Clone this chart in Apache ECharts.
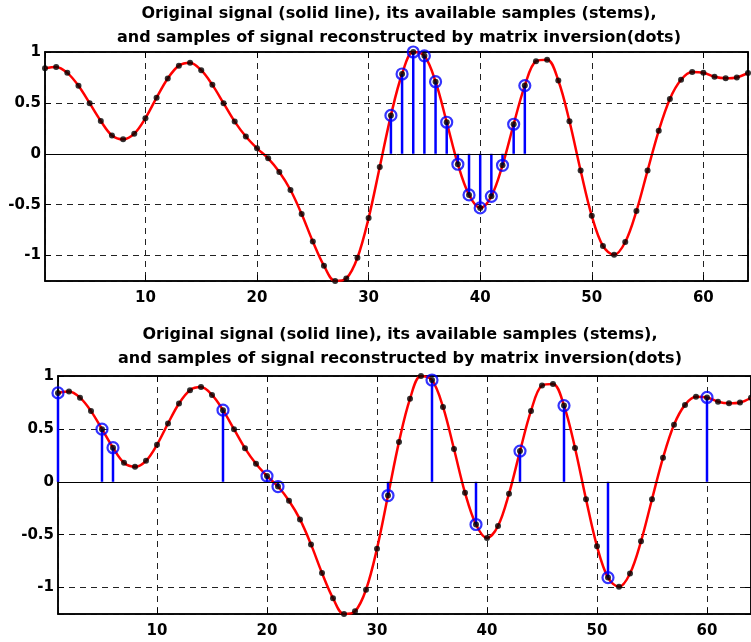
<!DOCTYPE html>
<html>
<head>
<meta charset="utf-8">
<script src="https://cdn.jsdelivr.net/npm/echarts@6/dist/echarts.min.js"></script>
<style>
html,body{margin:0;padding:0;background:#fff;}
#c{width:751px;height:642px;}
</style>
</head>
<body>
<div id="c"></div>
<script>
// Sample positions n = 1..64
var sampleIndex = [];
for (var i = 1; i <= 64; i++) sampleIndex.push(i);

// Original signal values at the 64 samples
var signal = [
  0.840, 0.853, 0.795, 0.668, 0.497, 0.322, 0.180, 0.142, 0.198, 0.350,
  0.551, 0.740, 0.866, 0.895, 0.821, 0.677, 0.497, 0.316, 0.170, 0.054,
  -0.045, -0.179, -0.356, -0.592, -0.862, -1.100, -1.250, -1.225, -1.021, -0.632,
  -0.130, 0.377, 0.784, 1.000, 0.962, 0.708, 0.310, -0.103, -0.404, -0.532,
  -0.418, -0.113, 0.290, 0.670, 0.910, 0.925, 0.720, 0.320, -0.164, -0.610,
  -0.906, -0.993, -0.867, -0.563, -0.165, 0.226, 0.539, 0.727, 0.803, 0.797,
  0.757, 0.742, 0.750, 0.794
];

// Reconstructed signal (dots) - same values as the original
var reconstructed = signal.slice();

// Indices of available samples (stems)
var availableTop = [32, 33, 34, 35, 36, 37, 38, 39, 40, 41, 42, 43, 44];
var availableBottom = [1, 5, 6, 16, 20, 21, 31, 35, 39, 43, 47, 51, 60];

// Titles
var titleLines = [
  'Original signal (solid line), its available samples (stems),',
  'and samples of signal reconstructed by matrix inversion(dots)'
];

// Tick labels
var yTicks = [-1, -0.5, 0, 0.5, 1];
var xTicks = [10, 20, 30, 40, 50, 60];

function pairs(xs, ys) { return xs.map(function (x, k) { return [x, ys[k]]; }); }
function stemPairs(idx) { return idx.map(function (n) { return [n, signal[n - 1]]; }); }

var FONT = '"DejaVu Sans", Verdana, sans-serif';

function xAxisFor(g, mirror) {
  return {
    type: 'value', gridIndex: g, min: 1, max: 64, position: mirror ? 'top' : 'bottom',
    axisLine: { show: true, onZero: false, lineStyle: { color: '#000', width: 1.5 } },
    axisTick: { show: true, inside: true, length: 6, lineStyle: { color: '#000', width: 1 } },
    axisLabel: {
      show: !mirror, margin: 10, color: '#000', fontFamily: FONT, fontWeight: 'bold', fontSize: 15,
      showMinLabel: false, showMaxLabel: false,
      formatter: function (v) { return xTicks.indexOf(v) >= 0 ? String(v) : ''; }
    },
    splitLine: { show: !mirror, lineStyle: { color: '#222', width: 1, type: [6, 5] } }
  };
}
function yAxisFor(g, mirror) {
  return {
    type: 'value', gridIndex: g, min: -1.25, max: 1, position: mirror ? 'right' : 'left',
    axisLine: { show: true, onZero: false, lineStyle: { color: '#000', width: 1.5 } },
    axisTick: { show: true, inside: true, length: 6, lineStyle: { color: '#000', width: 1 } },
    axisLabel: {
      show: !mirror, margin: 4, color: '#000', fontFamily: FONT, fontWeight: 'bold', fontSize: 15,
      showMinLabel: false,
      formatter: function (v) { return yTicks.indexOf(v) >= 0 ? String(v) : ''; }
    },
    splitLine: { show: !mirror, lineStyle: { color: '#222', width: 1, type: [6, 5] } }
  };
}

function seriesFor(g, idx) {
  return [
    {
      type: 'line', xAxisIndex: g, yAxisIndex: g, data: pairs(sampleIndex, signal),
      smooth: 0.35, showSymbol: false, symbol: 'none', clip: true,
      lineStyle: { color: '#ff0000', width: 2.5 }, z: 2,
      markLine: {
        silent: true, symbol: ['none', 'none'], label: { show: false },
        lineStyle: { color: '#000', width: 1, type: 'solid' },
        data: [{ yAxis: 0 }], animation: false
      }
    },
    {
      type: 'bar', xAxisIndex: g, yAxisIndex: g, data: stemPairs(idx),
      barWidth: 2.5, itemStyle: { color: '#0000ff' }, z: 3, clip: true
    },
    {
      type: 'scatter', xAxisIndex: g, yAxisIndex: g, data: stemPairs(idx),
      symbol: 'circle', symbolSize: 11, clip: true,
      itemStyle: { color: 'rgba(0,0,0,0)', borderColor: '#0000ff', borderWidth: 2.2 }, z: 4
    },
    {
      type: 'scatter', xAxisIndex: g, yAxisIndex: g, data: pairs(sampleIndex, reconstructed),
      symbol: 'circle', symbolSize: 6, clip: true,
      itemStyle: { color: '#000' }, z: 5
    }
  ];
}

var titleStyle = { fontFamily: FONT, fontWeight: 'bold', fontSize: 16, lineHeight: 24, color: '#000' };

var chart = echarts.init(document.getElementById('c'), null, { renderer: 'canvas' });
chart.setOption({
  animation: false,
  backgroundColor: '#fff',
  title: [
    { text: titleLines.join('\n'), left: 399, top: 2, padding: 0, textAlign: 'center', textStyle: titleStyle },
    { text: titleLines.join('\n'), left: 400, top: 323, padding: 0, textAlign: 'center', textStyle: titleStyle }
  ],
  grid: [
    { left: 45, top: 52, width: 703, height: 229, show: true, borderColor: '#000', borderWidth: 1.5, backgroundColor: '#fff' },
    { left: 58, top: 376, width: 700, height: 238, show: true, borderColor: '#000', borderWidth: 1.5, backgroundColor: '#fff' }
  ],
  xAxis: [xAxisFor(0, false), xAxisFor(1, false), xAxisFor(0, true), xAxisFor(1, true)],
  yAxis: [yAxisFor(0, false), yAxisFor(1, false), yAxisFor(0, true), yAxisFor(1, true)],
  series: seriesFor(0, availableTop).concat(seriesFor(1, availableBottom))
});
</script>
</body>
</html>
